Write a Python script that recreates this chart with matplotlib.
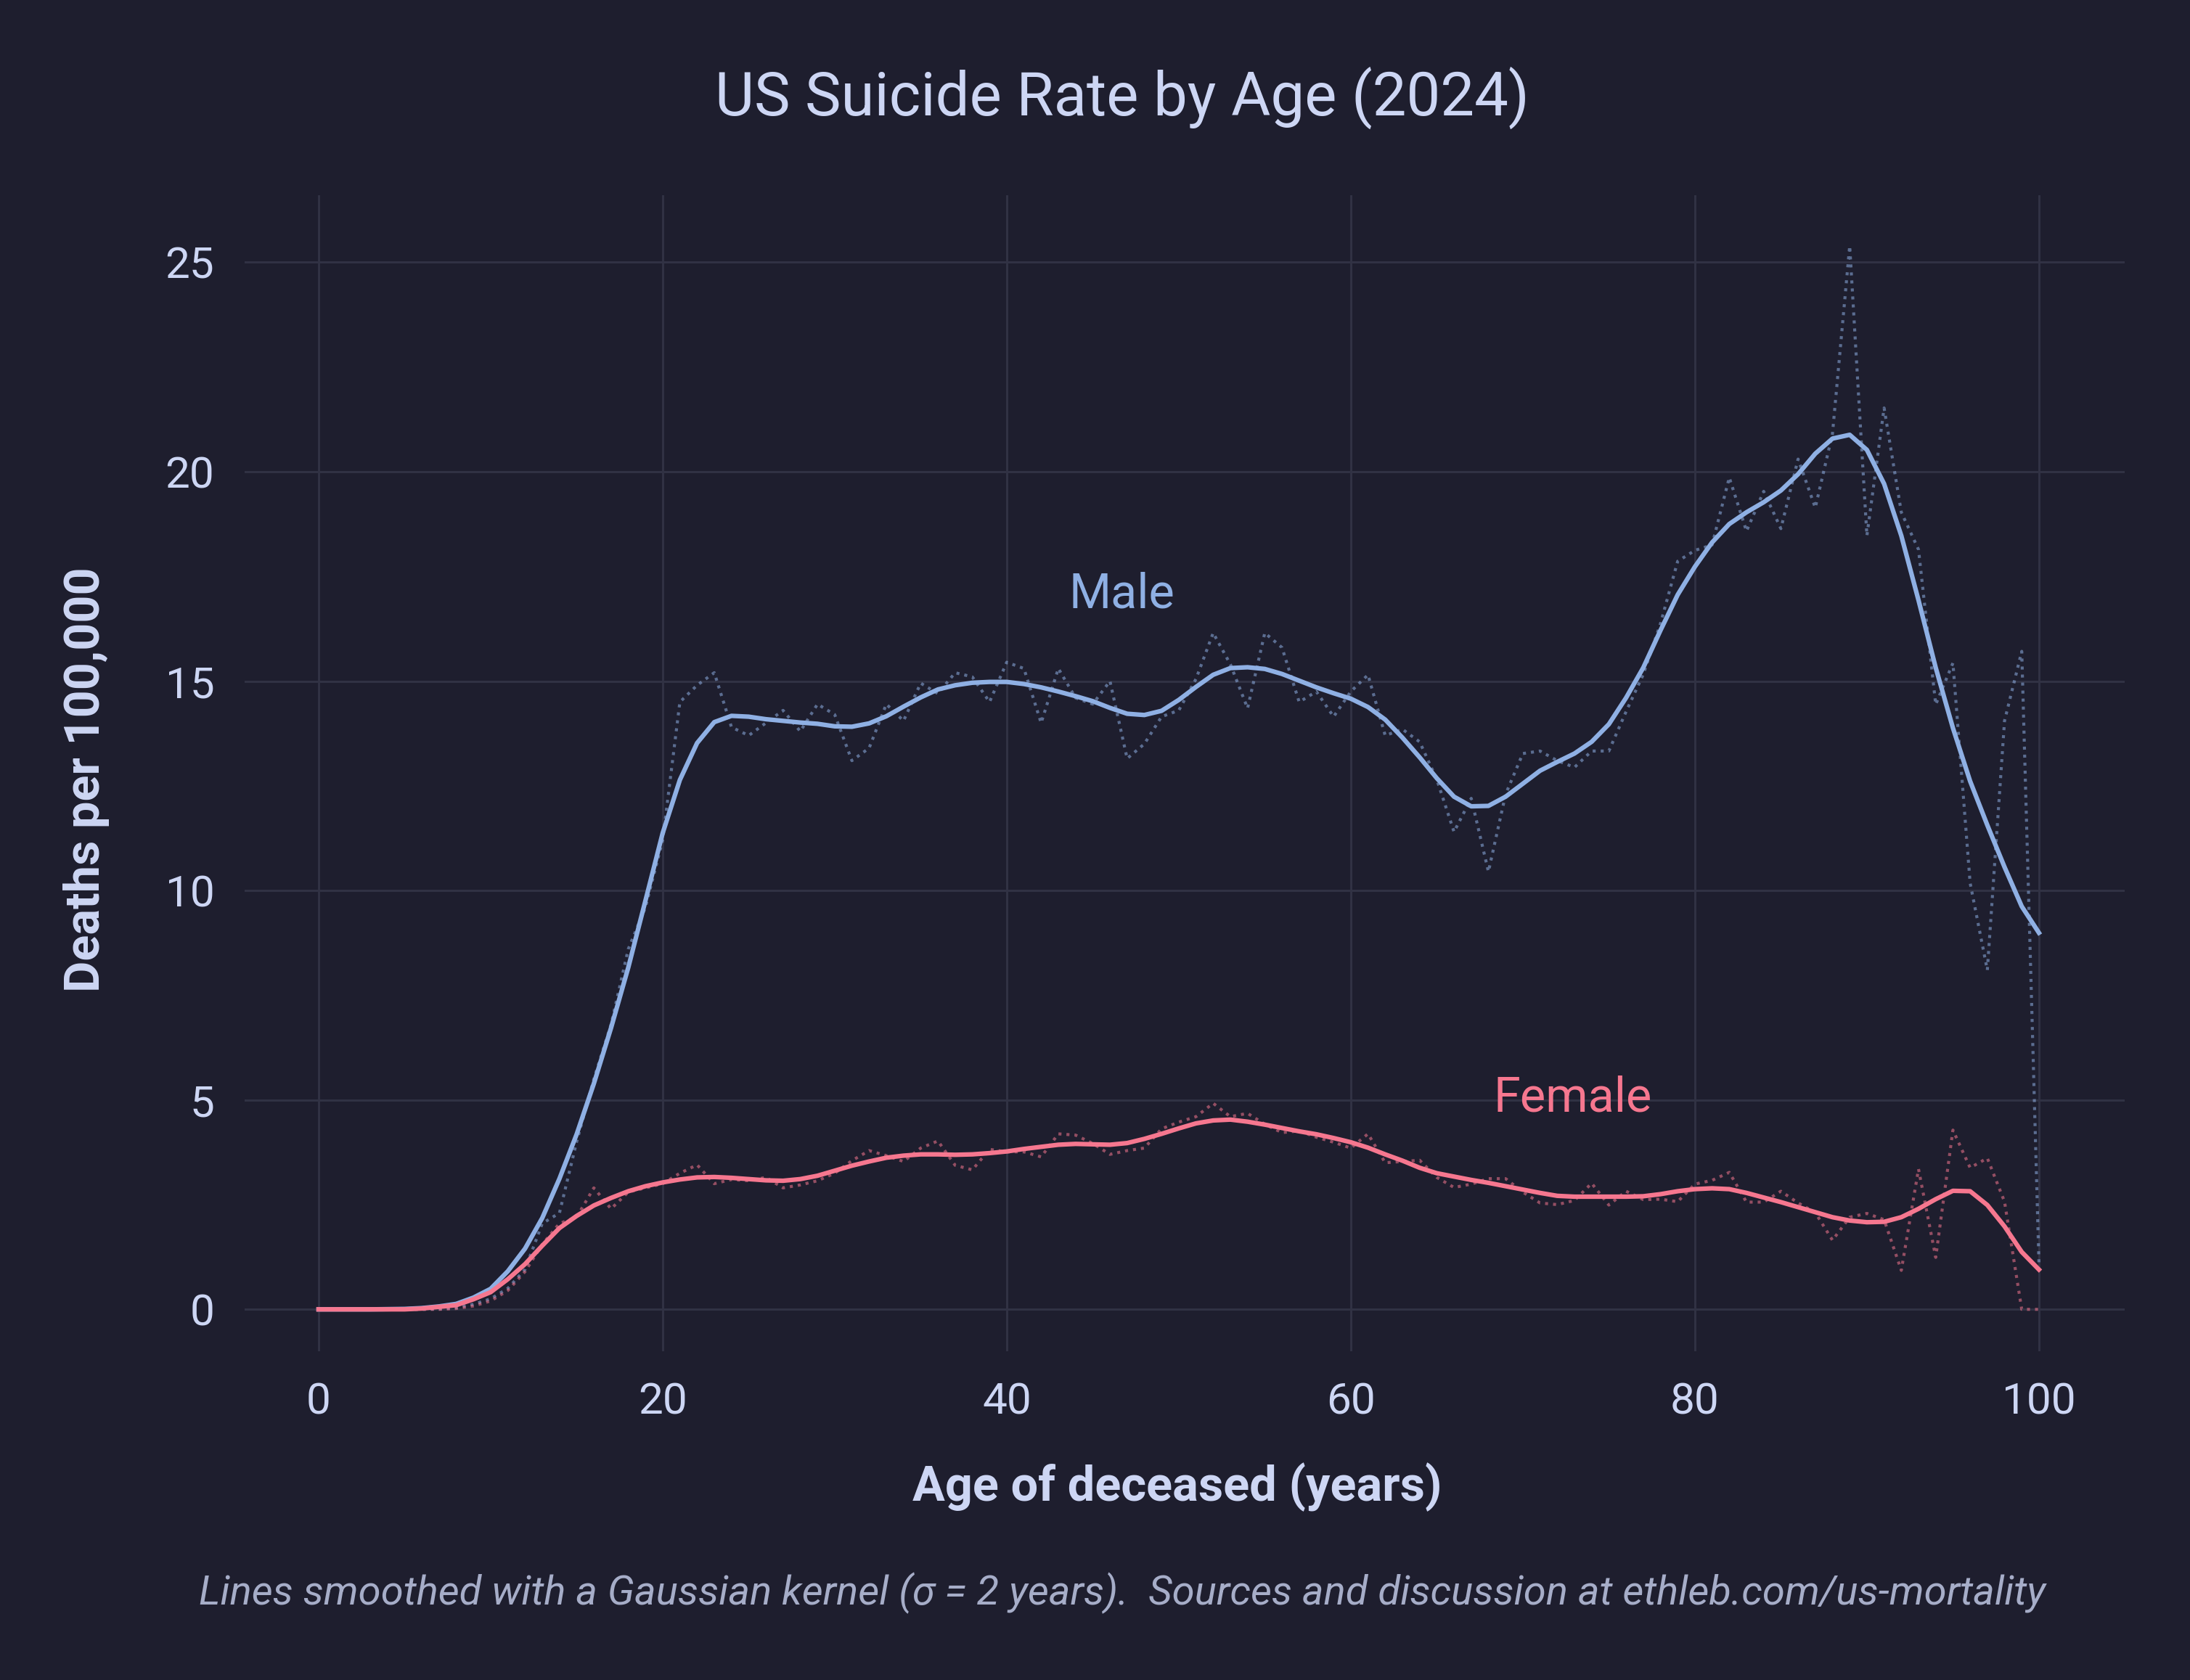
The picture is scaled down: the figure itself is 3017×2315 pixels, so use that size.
import matplotlib
matplotlib.use("Agg")
import matplotlib.pyplot as plt
import numpy as np

ages = list(range(0, 101))

male_raw = [0, 0, 0, 0, 0, 0, 0, 0.01, 0.04, 0.12,
            0.25, 0.5, 0.95, 2.05, 2.3, 4.0, 5.5, 6.8, 8.6, 9.6,
            11.2, 14.5, 14.9, 15.2, 13.9, 13.7, 14.0, 14.3, 13.8, 14.45,
            14.2, 13.1, 13.4, 14.45, 14.05, 14.95, 14.7, 15.2, 15.1, 14.5,
            15.45, 15.3, 14.0, 15.3, 14.6, 14.45, 15.0, 13.15, 13.5, 14.15,
            14.3, 15.05, 16.15, 15.4, 14.35, 16.15, 15.8, 14.5, 14.75, 14.15,
            14.75, 15.15, 13.7, 13.85, 13.55, 12.65, 11.4, 12.2, 10.45, 12.3,
            13.27, 13.33, 13.1, 12.94, 13.33, 13.33, 14.27, 15.16, 16.37, 17.86,
            18.12, 18.25, 19.86, 18.58, 19.53, 18.64, 20.3, 19.14, 20.91, 25.39,
            18.47, 21.52, 19.03, 18.14, 14.44, 15.43, 10.18, 8.1, 14.05, 15.71,
            1.1]

male_smooth = [0, 0, 0, 0, 0.005, 0.01, 0.03, 0.07, 0.13, 0.28,
               0.49, 0.91, 1.45, 2.18, 3.12, 4.18, 5.39, 6.72, 8.16, 9.76,
               11.37, 12.64, 13.52, 14.02, 14.17, 14.15, 14.09, 14.05, 14.01, 13.98,
               13.92, 13.91, 13.99, 14.16, 14.39, 14.61, 14.80, 14.90, 14.96, 14.98,
               14.98, 14.93, 14.85, 14.75, 14.64, 14.52, 14.36, 14.22, 14.19, 14.29,
               14.55, 14.86, 15.15, 15.31, 15.33, 15.29, 15.17, 15.01, 14.85, 14.71,
               14.58, 14.38, 14.08, 13.65, 13.18, 12.68, 12.24, 12.01, 12.02, 12.24,
               12.55, 12.86, 13.07, 13.27, 13.55, 13.97, 14.60, 15.32, 16.21, 17.06,
               17.73, 18.31, 18.75, 19.03, 19.27, 19.55, 19.94, 20.43, 20.79, 20.88,
               20.52, 19.71, 18.47, 16.93, 15.32, 13.88, 12.61, 11.56, 10.56, 9.62,
               8.99]

female_raw = [0, 0, 0, 0, 0, 0, 0, 0, 0.02, 0.08,
              0.2, 0.45, 0.9, 1.55, 2.05, 2.2, 2.9, 2.4, 2.8, 2.9,
              3.0, 3.25, 3.45, 3.0, 3.1, 3.07, 3.15, 2.9, 2.97, 3.07,
              3.25, 3.55, 3.79, 3.67, 3.53, 3.85, 4.02, 3.44, 3.33, 3.82,
              3.76, 3.76, 3.64, 4.19, 4.16, 3.96, 3.7, 3.79, 3.85, 4.31,
              4.47, 4.6, 4.92, 4.6, 4.68, 4.42, 4.22, 4.26, 4.11, 3.99,
              3.85, 4.19, 3.5, 3.53, 3.56, 3.15, 2.91, 2.99, 3.12, 3.12,
              2.8, 2.54, 2.5, 2.6, 3.01, 2.49, 2.82, 2.62, 2.63, 2.57,
              2.99, 3.08, 3.27, 2.56, 2.56, 2.82, 2.54, 2.31, 1.65, 2.2,
              2.29, 2.14, 0.93, 3.35, 1.24, 4.28, 3.38, 3.61, 2.57, 0,
              0]

female_smooth = [0, 0, 0, 0, 0, 0, 0.02, 0.06, 0.1, 0.24,
                 0.41, 0.72, 1.08, 1.52, 1.94, 2.23, 2.48, 2.66, 2.82, 2.94,
                 3.03, 3.1, 3.15, 3.16, 3.14, 3.11, 3.08, 3.07, 3.11, 3.19,
                 3.31, 3.43, 3.53, 3.62, 3.67, 3.70, 3.70, 3.69, 3.70, 3.73,
                 3.77, 3.83, 3.88, 3.93, 3.95, 3.94, 3.93, 3.97, 4.07, 4.19,
                 4.32, 4.44, 4.51, 4.53, 4.48, 4.41, 4.33, 4.25, 4.18, 4.09,
                 3.99, 3.86, 3.70, 3.55, 3.38, 3.25, 3.17, 3.09, 3.02, 2.94,
                 2.86, 2.78, 2.71, 2.69, 2.69, 2.69, 2.69, 2.70, 2.75, 2.82,
                 2.87, 2.89, 2.87, 2.78, 2.67, 2.56, 2.44, 2.32, 2.20, 2.12,
                 2.08, 2.09, 2.20, 2.40, 2.63, 2.83, 2.82, 2.49, 1.98, 1.37,
                 0.95]

x_ticks = [0, 20, 40, 60, 80, 100]
y_ticks = [0, 5, 10, 15, 20, 25]

BG = "#1e1e2e"
TEXT = "#cdd6f4"
SUB = "#a6adc8"
GRID = "#313244"
MALE = "#8fb0e4"
FEMALE = "#f6778f"
FONT = "Roboto"

plt.rcParams["font.family"] = [FONT, "DejaVu Sans"]

fig = plt.figure(figsize=(3017 / 300, 2315 / 300), dpi=300, facecolor=BG)
ax = fig.add_axes([0.1117, 0.1957, 0.9703 - 0.1117, 0.8838 - 0.1957])
ax.set_facecolor(BG)

ax.plot(ages, male_raw, color=MALE, lw=1.0, ls=":", alpha=0.55, zorder=2)
ax.plot(ages, female_raw, color=FEMALE, lw=1.0, ls=":", alpha=0.55, zorder=2)
ax.plot(ages, male_smooth, color=MALE, lw=1.5, zorder=3)
ax.plot(ages, female_smooth, color=FEMALE, lw=1.5, zorder=3)

ax.set_xlim(-4.3, 105)
ax.set_ylim(-1.0, 26.6)
ax.set_xticks(x_ticks)
ax.set_yticks(y_ticks)
ax.grid(True, color=GRID, lw=0.7)
ax.set_axisbelow(True)
for s in ax.spines.values():
    s.set_visible(False)
ax.tick_params(length=0, colors=TEXT, labelsize=14.5, pad=10)
for lab in ax.get_xticklabels() + ax.get_yticklabels():
    lab.set_color(TEXT)

ax.text(46.7, 17.06, "Male", color=MALE, fontsize=16, ha="center", va="center")
ax.text(72.9, 5.04, "Female", color=FEMALE, fontsize=16, ha="center", va="center")

fig.text(0.5125, 0.9417, "US Suicide Rate by Age (2024)", color=TEXT,
         fontsize=20, ha="center", va="center")
fig.text(0.5376, 0.115, "Age of deceased (years)", color=TEXT, fontsize=16,
         fontweight="bold", ha="center", va="center")
fig.text(0.0396, 0.536, "Deaths per 100,000", color=TEXT, fontsize=16,
         fontweight="bold", ha="center", va="center", rotation=90)
fig.text(0.5125, 0.0518,
         "Lines smoothed with a Gaussian kernel (\u03c3 = 2 years).  Sources and discussion at ethleb.com/us-mortality",
         color=SUB, fontsize=13.5, style="italic", ha="center", va="center")

fig.savefig("out.png", dpi=300, facecolor=BG)
